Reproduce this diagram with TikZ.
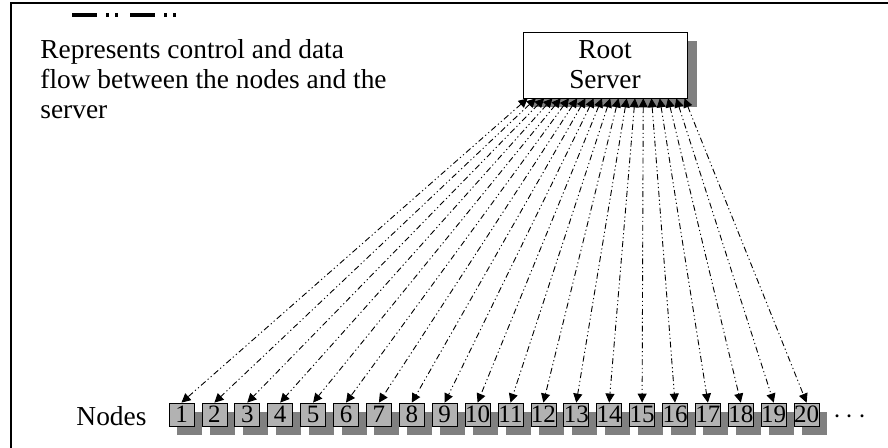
\documentclass[tikz,border=0pt]{standalone}
\usepackage{fontspec}
\setmainfont{Liberation Serif}
\usetikzlibrary{arrows.meta,shadows,calc}

\begin{document}
\begin{tikzpicture}[x=0.5pt,y=-0.5pt,
  every node/.style={font=\fontsize{13.7}{15}\selectfont},
  flow/.style={line width=0.45pt, dash pattern=on 3pt off 1.4pt on 0.6pt off 1.4pt on 0.6pt off 1.4pt,
    {Triangle[length=4.5pt,width=4.5pt]}-{Triangle[length=4.5pt,width=4.5pt]}}]
\tikzstyle{srv}=[draw, fill=white, minimum width=82pt, minimum height=33pt, inner sep=0pt, align=center,
  drop shadow={shadow xshift=5pt, shadow yshift=-4.5pt, fill=black!50, opacity=1}]
\tikzstyle{nd}=[draw, fill=black!30, minimum width=12.5pt, minimum height=11.5pt, inner sep=0pt,
  font=\fontsize{12.5}{15}\selectfont,
  drop shadow={shadow xshift=4pt, shadow yshift=-4.5pt, fill=black!50, opacity=1}]
\clip (0,0) rectangle (888,448);
\draw [line width=1.3pt] (11,3) rectangle (900,470);
% legend
\coordinate (la) at (72,15);
\coordinate (lb) at (180,15);
\draw [line width=1.75pt, dash pattern=on 12.5pt off 4.5pt on 1.5pt off 3pt on 1.5pt off 6pt] (la) -- (lb);
\node [anchor=north west, inner sep=0pt, align=left] (desc) at (40,39)
  {Represents control and data\\flow between the nodes and the\\server};
\node [srv] (root) at (605,65) {Root\\Server};
\node (lbl) at (111.5,416) {Nodes};
\foreach \i in {1,...,20}
  \node [nd] (n\i) at ({181.5+(\i-1)*32.9},414.5) {\i};
\node (more) at (850,417) {$\cdots$};
% connectors
\foreach \i in {1,...,20}
  \draw [flow] ($(root.south west)+({5+(\i-1)*8.26},0)$) -- (n\i.north);
\end{tikzpicture}
\end{document}
